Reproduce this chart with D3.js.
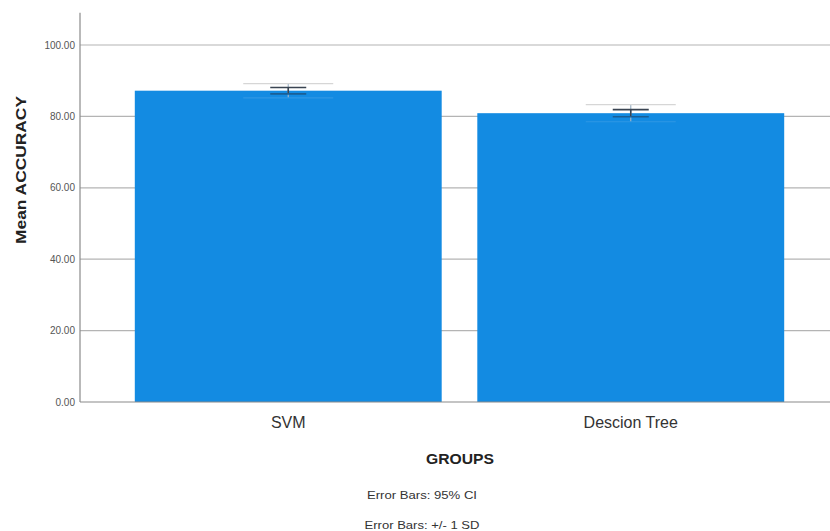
<!DOCTYPE html>
<html>
<head>
<meta charset="utf-8">
<script src="https://cdn.jsdelivr.net/npm/d3@7"></script>
<style>
  body { margin: 0; background: #fff; }
  svg { display: block; font-family: "Liberation Sans", Arial, sans-serif; }
</style>
</head>
<body>
<svg id="chart" width="830" height="531"></svg>
<script>
const groups = ["SVM", "Descion Tree"];
const means = [87.2, 80.9];
const ciHalf = [0.9, 1.0];
const sdHalf = [2.0, 2.4];
const yTicks = [0, 20, 40, 60, 80, 100];
const footnotes = ["Error Bars: 95% CI", "Error Bars: +/- 1 SD"];

const svg = d3.select("#chart");

const left = 80;
const right = 830;
const base = 402;
const yMax = 109;

const yScale = d3.scaleLinear([0, yMax], [base, base - yMax * 3.57]);
const xScale = d3.scaleBand(groups, [left, 839])
                 .paddingInner(0.104)
                 .paddingOuter(0.16);

// gridlines
svg.selectAll(".grid")
    .data(yTicks.filter(t => t > 0))
    .enter()
    .append("line")
    .attr("x1", left)
    .attr("x2", right)
    .attr("y1", d => yScale(d))
    .attr("y2", d => yScale(d))
    .attr("stroke", "#b4b4b4")
    .attr("stroke-width", 1.2);

// bars
svg.selectAll(".bar")
    .data(groups)
    .enter()
    .append("rect")
    .attr("x", d => xScale(d))
    .attr("width", xScale.bandwidth())
    .attr("y", (d, i) => yScale(means[i]))
    .attr("height", (d, i) => base - yScale(means[i]))
    .attr("fill", "#138be2");

// error bars: light = +/- 1 SD, dark = 95% CI
groups.forEach((g, i) => {
    const cx = xScale(g) + xScale.bandwidth() / 2;
    const top = yScale(means[i] + sdHalf[i]);
    const bot = yScale(means[i] - sdHalf[i]);
    const e = svg.append("g").attr("stroke", "#d6d6d6").attr("stroke-width", 1.2);
    e.append("line").attr("x1", cx).attr("x2", cx).attr("y1", top).attr("y2", bot)
        .attr("stroke", "#9fb4c6");
    e.append("line").attr("x1", cx - 45).attr("x2", cx + 45).attr("y1", top).attr("y2", top);
    e.append("line").attr("x1", cx - 45).attr("x2", cx + 45).attr("y1", bot).attr("y2", bot)
        .attr("stroke", "#2f97e4");

    const ctop = yScale(means[i] + ciHalf[i]);
    const cbot = yScale(means[i] - ciHalf[i]);
    const c = svg.append("g").attr("stroke", "#3a4452").attr("stroke-width", 1.6);
    c.append("line").attr("x1", cx).attr("x2", cx).attr("y1", ctop).attr("y2", cbot);
    c.append("line").attr("x1", cx - 18).attr("x2", cx + 18).attr("y1", ctop).attr("y2", ctop);
    c.append("line").attr("x1", cx - 18).attr("x2", cx + 18).attr("y1", cbot).attr("y2", cbot)
        .attr("stroke", "#1a5f96");
});

// axes lines
svg.append("line")
    .attr("x1", left).attr("x2", left)
    .attr("y1", yScale(yMax)).attr("y2", base)
    .attr("stroke", "#8a8a8a").attr("stroke-width", 1.2);
svg.append("line")
    .attr("x1", left).attr("x2", right)
    .attr("y1", base).attr("y2", base)
    .attr("stroke", "#8a8a8a").attr("stroke-width", 1.2);

// y tick labels
svg.selectAll(".ylab")
    .data(yTicks)
    .enter()
    .append("text")
    .attr("x", left - 5)
    .attr("y", d => yScale(d))
    .attr("dy", "0.35em")
    .attr("text-anchor", "end")
    .attr("font-size", 10)
    .attr("fill", "#555")
    .text(d => d3.format(".2f")(d));

// x category labels
svg.selectAll(".xlab")
    .data(groups)
    .enter()
    .append("text")
    .attr("x", d => xScale(d) + xScale.bandwidth() / 2)
    .attr("y", 428)
    .attr("text-anchor", "middle")
    .attr("font-size", 16)
    .attr("fill", "#333")
    .text(d => d);

// axis titles
svg.append("text")
    .attr("transform", "translate(26, 170) rotate(-90)")
    .attr("text-anchor", "middle")
    .attr("font-size", 15)
    .attr("font-weight", "bold")
    .attr("fill", "#222")
    .attr("textLength", 148)
    .attr("lengthAdjust", "spacingAndGlyphs")
    .text("Mean ACCURACY");

svg.append("text")
    .attr("x", 460)
    .attr("y", 464)
    .attr("text-anchor", "middle")
    .attr("font-size", 15)
    .attr("font-weight", "bold")
    .attr("fill", "#222")
    .attr("textLength", 68)
    .attr("lengthAdjust", "spacingAndGlyphs")
    .text("GROUPS");

svg.selectAll(".note")
    .data(footnotes)
    .enter()
    .append("text")
    .attr("x", 422)
    .attr("y", (d, i) => 499 + i * 30)
    .attr("text-anchor", "middle")
    .attr("font-size", 11)
    .attr("fill", "#333")
    .attr("textLength", (d, i) => [110, 115][i])
    .attr("lengthAdjust", "spacingAndGlyphs")
    .text(d => d);
</script>
</body>
</html>
